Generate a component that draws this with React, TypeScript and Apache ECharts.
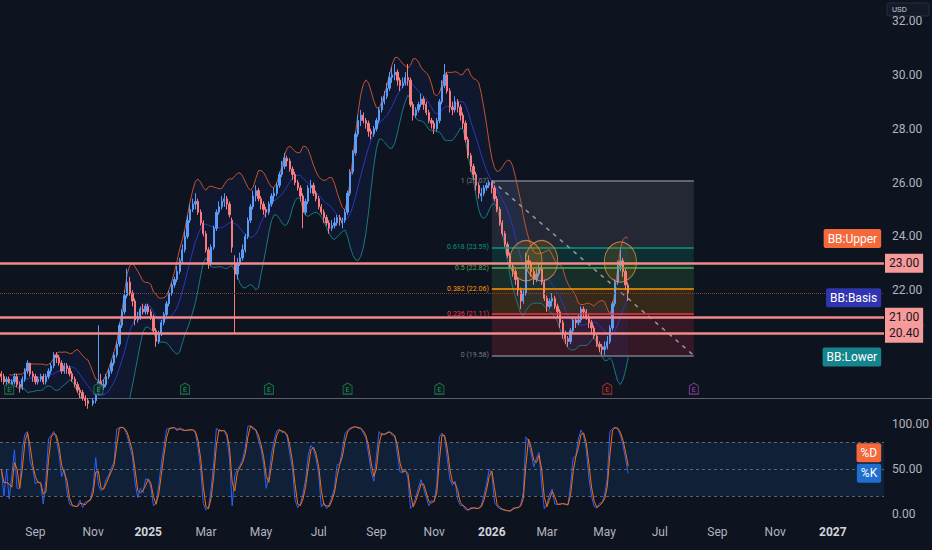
import React, { useEffect, useRef } from 'react';
import * as echarts from 'echarts';

// ---------- axis / categories ----------
const START_DATE = '2024-07-29';
const CATEGORY_COUNT = 337; // every second weekday, Jul 2024 .. Feb 2027
const MONTH_LABELS = ['Jan', 'Feb', 'Mar', 'Apr', 'May', 'Jun', 'Jul', 'Aug', 'Sep', 'Oct', 'Nov', 'Dec'];
const PRICE_LABEL_MIN = 22;
const PRICE_LABEL_MAX = 32;

// ---------- price candles: [open, close, low, high], one per category ----------
const CANDLES: number[][] = [
  [18.9,18.8,18.6,19.0],[18.8,18.6,18.5,18.9],[18.6,18.7,18.4,18.8],[18.7,18.5,18.4,18.8],[18.5,18.6,18.3,18.7],
  [18.6,18.8,18.5,18.9],[18.8,18.5,18.4,18.9],[18.5,18.4,18.2,18.6],[18.4,18.7,18.3,18.8],[18.7,19.0,18.6,19.1],
  [19.0,19.3,18.9,19.4],[19.3,18.9,18.8,19.3],[18.9,18.8,18.6,19.0],[18.8,18.6,18.5,18.9],[18.6,18.7,18.5,18.8],
  [18.7,18.8,18.6,18.9],[18.8,18.6,18.5,18.9],[18.6,18.8,18.5,18.9],[18.8,19.0,18.7,19.1],[19.0,19.2,18.9,19.3],
  [19.2,19.6,19.1,19.7],[19.6,19.5,19.3,19.7],[19.5,19.3,19.2,19.6],[19.3,19.0,18.9,19.4],[19.0,19.2,18.9,19.3],
  [19.2,19.1,18.9,19.3],[19.1,18.9,18.8,19.2],[18.9,18.7,18.6,19.0],[18.7,18.5,18.4,18.8],[18.5,18.3,18.2,18.6],
  [18.3,18.2,18.0,18.4],[18.2,18.0,17.9,18.3],[18.0,17.9,17.7,18.1],[17.9,17.8,17.6,18.0],[17.7,17.8,17.6,17.9],
  [17.8,17.9,17.7,18.0],[17.9,18.1,17.8,18.2],[18.2,18.6,18.1,20.7],[18.6,18.4,18.3,18.9],[18.4,18.5,18.3,18.7],
  [18.5,18.8,18.4,18.9],[18.8,19.0,18.7,19.1],[19.0,19.3,18.9,19.4],[19.3,19.6,19.2,19.7],[19.6,20.0,19.5,20.1],
  [20.0,20.7,19.9,20.8],[20.7,21.2,20.6,21.3],[21.2,21.8,21.1,22.0],[21.8,22.3,21.7,22.8],[22.3,21.9,21.8,22.5],
  [21.9,21.6,21.4,22.0],[21.6,20.9,20.7,21.7],[20.9,21.0,20.8,21.2],[21.0,21.3,20.9,21.4],[21.3,21.2,21.1,21.5],
  [21.2,21.4,21.1,21.5],[21.4,21.2,21.1,21.5],[21.2,21.0,20.9,21.3],[21.0,20.5,20.4,21.1],[20.5,20.1,19.9,20.6],
  [20.1,20.4,20.0,20.5],[20.4,20.8,20.3,20.9],[20.8,21.1,20.7,21.2],[21.1,21.5,21.0,21.6],[21.5,21.9,21.4,22.0],
  [21.9,22.2,21.8,22.3],[22.2,22.4,22.1,22.5],[22.4,22.7,22.3,22.9],[22.7,23.1,22.6,23.2],[23.1,23.5,23.0,23.7],
  [23.5,24.0,23.4,24.2],[24.0,24.6,23.9,24.8],[24.6,25.0,24.5,25.2],[25.0,25.2,24.9,25.4],[25.2,25.3,25.0,25.6],
  [25.3,24.9,24.8,25.4],[24.9,24.5,24.4,25.0],[24.5,24.1,24.0,24.6],[24.1,23.5,23.4,24.2],[23.5,23.0,22.8,23.6],
  [23.0,23.6,22.9,23.7],[23.6,24.3,23.5,24.4],[24.3,24.9,24.2,25.0],[24.9,25.1,24.8,25.3],[25.1,25.3,25.0,25.5],
  [25.3,25.4,25.1,25.6],[25.4,25.2,25.0,25.5],[25.2,24.8,24.7,25.3],[24.6,23.6,23.4,24.7],[23.0,22.6,20.4,23.3],
  [22.6,23.0,22.4,23.2],[23.0,23.2,22.9,23.4],[23.2,23.5,23.1,23.7],[23.5,24.0,23.4,24.1],[24.0,24.6,23.9,24.7],
  [24.6,25.1,24.5,25.2],[25.1,25.5,25.0,25.7],[25.5,25.7,25.3,25.9],[25.7,25.4,25.3,25.8],[25.4,25.2,25.0,25.5],
  [25.2,25.0,24.8,25.3],[25.0,24.9,24.7,25.1],[24.9,25.2,24.8,25.3],[25.2,25.5,25.1,25.6],[25.5,25.6,25.3,25.8],
  [25.6,25.9,25.5,26.0],[25.9,26.3,25.8,26.4],[26.3,26.6,26.2,26.8],[26.6,26.9,26.5,27.1],[26.9,26.8,26.6,27.0],
  [26.8,26.5,26.4,26.9],[26.5,26.3,26.1,26.6],[26.3,26.0,25.9,26.4],[26.0,25.8,25.7,26.1],[25.8,25.5,25.3,25.9],
  [25.5,24.9,24.3,25.6],[24.9,25.3,24.8,25.4],[25.3,25.8,25.2,25.9],[25.8,25.9,25.6,26.1],[25.9,25.6,25.5,26.0],
  [25.6,25.4,25.3,25.7],[25.4,25.1,25.0,25.5],[25.1,24.9,24.8,25.2],[24.9,24.7,24.5,25.0],[24.7,24.5,24.4,24.8],
  [24.5,24.3,24.1,24.6],[24.3,24.4,24.2,24.6],[24.4,24.5,24.3,24.7],[24.5,24.7,24.4,24.8],[24.7,24.6,24.4,24.8],
  [24.5,24.6,24.3,24.7],[24.6,24.9,24.5,25.0],[24.9,25.6,24.8,25.7],[25.6,26.4,25.5,26.5],[26.4,27.1,26.3,27.2],
  [27.1,27.8,27.0,27.9],[27.8,28.3,27.7,28.5],[28.3,28.5,28.1,28.7],[28.5,28.3,28.2,28.6],[28.3,28.2,28.0,28.4],
  [28.2,27.9,27.7,28.3],[27.9,27.8,27.6,28.0],[27.8,28.0,27.7,28.1],[28.0,28.3,27.9,28.4],[28.3,28.7,28.2,28.8],
  [28.7,29.0,28.6,29.2],[29.0,29.2,28.9,29.4],[29.2,29.5,29.1,29.7],[29.5,29.9,29.4,30.1],[29.9,30.0,29.7,30.3],
  [30.0,30.1,29.8,30.4],[30.1,29.8,29.6,30.2],[29.8,29.6,29.4,29.9],[29.6,29.7,29.5,29.9],[29.7,29.9,29.6,30.1],
  [29.9,29.8,29.6,30.4],[29.8,28.9,28.8,29.9],[28.9,28.5,28.3,29.0],[28.5,28.7,28.4,28.8],[28.7,28.9,28.6,29.0],
  [28.9,29.1,28.8,29.3],[29.1,28.9,28.7,29.2],[28.9,28.6,28.5,29.0],[28.6,28.3,28.2,28.7],[28.3,28.2,28.0,28.4],
  [28.2,28.0,27.8,28.3],[28.0,28.3,27.9,28.4],[28.3,29.0,28.2,29.1],[29.0,29.6,28.9,29.8],[29.6,30.0,29.5,30.4],
  [30.0,29.4,29.3,30.1],[29.4,28.8,28.6,29.5],[28.8,28.7,28.5,29.0],[28.7,29.0,28.6,29.2],[29.0,28.8,28.6,29.1],
  [28.8,28.5,28.3,28.9],[28.5,28.2,28.0,28.6],[28.2,27.6,27.5,28.3],[27.6,27.0,26.9,27.7],[27.0,26.6,26.4,27.1],
  [26.6,26.3,26.1,26.7],[26.3,25.9,25.7,26.4],[25.9,25.6,25.4,26.0],[25.5,25.6,25.3,25.8],[25.6,25.8,25.5,25.9],
  [25.8,25.9,25.7,26.0],[25.9,26.0,25.8,26.07],[26.0,25.8,25.6,26.05],[25.8,25.4,25.3,25.9],[25.4,25.0,24.9,25.5],
  [25.0,24.5,24.4,25.1],[24.5,24.1,24.0,24.6],[24.1,23.7,23.6,24.2],[23.7,23.3,23.2,23.8],[23.3,22.9,22.8,23.4],
  [22.9,22.7,22.5,23.0],[22.7,22.4,22.2,22.8],[22.4,22.0,21.8,22.5],[22.0,21.6,21.3,22.1],[21.6,21.9,21.5,22.0],
  [21.9,23.1,21.8,23.4],[23.1,23.0,22.8,23.3],[23.0,22.7,22.5,23.1],[22.7,22.4,22.2,22.8],[22.4,22.6,22.3,22.8],
  [22.6,22.8,22.5,23.0],[22.8,22.3,22.2,22.9],[22.3,21.7,21.6,22.4],[21.7,21.4,21.2,21.8],[21.4,21.6,21.3,21.7],
  [21.6,21.7,21.4,21.9],[21.7,21.4,21.3,21.8],[21.4,21.2,21.0,21.5],[21.2,20.8,20.6,21.3],[20.8,20.4,20.2,20.9],
  [20.4,20.2,20.0,20.5],[20.2,20.1,19.9,20.3],[20.1,20.5,20.0,20.6],[20.5,20.9,20.4,21.0],[20.9,20.8,20.6,21.0],
  [20.8,20.9,20.7,21.1],[20.9,21.3,20.8,21.4],[21.3,21.2,21.0,21.4],[21.2,21.0,20.9,21.3],[21.0,20.8,20.6,21.1],
  [20.8,20.6,20.4,20.9],[20.6,20.3,20.2,20.7],[20.3,20.0,19.9,20.4],[20.0,19.9,19.7,20.1],[19.9,19.8,19.58,20.0],
  [19.8,19.9,19.6,20.1],[19.9,20.1,19.8,20.3],[20.1,20.6,20.0,20.7],[20.6,21.5,20.5,21.6],[21.5,22.3,21.4,22.4],
  [22.3,22.9,22.2,23.1],[22.9,23.1,22.7,23.6],[23.1,22.7,22.5,23.2],[22.7,22.2,22.0,22.8],[22.2,21.9,21.6,22.3],
];

// ---------- drawings ----------
const H_LINES = [23.0, 21.0, 20.4];
const FIB_START = '2026-01-02';
const FIB_END = '2026-08-06';
const FIB_RATIOS = ['1', '0.618', '0.5', '0.382', '0.236', '0'];
const FIB_PRICES = [26.07, 23.59, 22.82, 22.06, 21.11, 19.58];
const FIB_COLORS = ['#787b86', '#089981', '#4caf50', '#ff9800', '#f23645', '#787b86'];
const FIB_FILLS = ['rgba(120,123,134,0.2)', 'rgba(8,153,129,0.2)', 'rgba(76,175,80,0.17)', 'rgba(255,152,0,0.17)', 'rgba(242,54,69,0.17)'];
const CIRCLE_DATES = ['2026-02-09', '2026-02-25', '2026-05-20'];
const CIRCLE_PRICES = [23.1, 23.1, 23.05];
const EVENT_DATES = ['2024-08-06', '2024-11-07', '2025-02-10', '2025-05-09', '2025-08-01', '2025-11-07', '2026-05-06', '2026-08-06'];
const EVENT_KINDS = ['past', 'past', 'past', 'past', 'past', 'past', 'recent', 'future'];
const EVENT_PRICE = 18.35;

// ---------- indicator settings ----------
const BB_PERIOD = 10;
const BB_MULT = 2;
const K_PERIOD = 7;
const D_PERIOD = 2;

const UP = '#5b9cf6';
const DOWN = '#f77c80';
const BG = '#0e1320';
const AXIS_TEXT = '#b2b5be';

function buildCategories(): string[] {
  const out: string[] = [];
  const d = new Date(START_DATE + 'T00:00:00Z');
  let wd = 0;
  while (out.length < CATEGORY_COUNT) {
    const dow = d.getUTCDay();
    if (dow !== 0 && dow !== 6) {
      if (wd % 2 === 0) out.push(d.toISOString().slice(0, 10));
      wd++;
    }
    d.setUTCDate(d.getUTCDate() + 1);
  }
  return out;
}

export default function App() {
  const ref = useRef<HTMLDivElement>(null);
  useEffect(() => {
    if (!ref.current) return;
    const chart = echarts.init(ref.current, undefined, { renderer: 'svg' });
    const cats = buildCategories();
    const catOf = (d: string) => cats.find((c) => c >= d) || cats[cats.length - 1];
    const lastCat = cats[cats.length - 1];

    const closes = CANDLES.map((c) => c[1]);
    const basis: (number | null)[] = [];
    const upper: (number | null)[] = [];
    const lower: (number | null)[] = [];
    for (let i = 0; i < closes.length; i++) {
      if (i < 3) { basis.push(null); upper.push(null); lower.push(null); continue; }
      const n = Math.min(i + 1, BB_PERIOD);
      const win = closes.slice(i + 1 - n, i + 1);
      const m = win.reduce((a, b) => a + b, 0) / n;
      const sd = Math.sqrt(win.reduce((a, b) => a + (b - m) * (b - m), 0) / n);
      basis.push(m); upper.push(m + BB_MULT * sd); lower.push(m - BB_MULT * sd);
    }
    const bandWidth = upper.map((u, i) => (u == null || lower[i] == null ? null : u - (lower[i] as number)));

    const kLine: number[] = [];
    const dLine: number[] = [];
    for (let i = 0; i < CANDLES.length; i++) {
      const n = Math.min(i + 1, K_PERIOD);
      const win = CANDLES.slice(i + 1 - n, i + 1);
      const hh = Math.max(...win.map((c) => c[3]));
      const ll = Math.min(...win.map((c) => c[2]));
      kLine.push(hh === ll ? 50 : (100 * (CANDLES[i][1] - ll)) / (hh - ll));
      const dn = Math.min(i + 1, D_PERIOD);
      const kw = kLine.slice(i + 1 - dn, i + 1);
      dLine.push(kw.reduce((a, b) => a + b, 0) / dn);
    }
    const lastK = kLine[kLine.length - 1];
    const lastD = dLine[dLine.length - 1];
    // keep the two end labels from overlapping: the lower one stays at its value
    let kPos = lastK, dPos = lastD;
    if (Math.abs(lastD - lastK) < 23) {
      if (lastD >= lastK) dPos = lastK + 23; else kPos = lastD + 23;
    }
    const lastIdx = closes.length - 1;

    const labelBox = (text: string, bg: string) => ({
      show: true, position: 'left', distance: 1, formatter: text, color: '#ffffff',
      backgroundColor: bg, padding: [4, 4, 3, 4], fontSize: 12, borderRadius: 2,
    });
    const lastMarker = (value: number, text: string, bg: string) => ({
      symbol: 'rect', symbolSize: 1, silent: true, itemStyle: { color: 'rgba(0,0,0,0)' },
      label: labelBox(text, bg),
      data: [{ coord: [lastCat, value] }],
    });

    const fibLines: any[] = FIB_PRICES.map((p, j) => [
      {
        coord: [FIB_START, p], name: `${FIB_RATIOS[j]} (${p.toFixed(2)})`,
        lineStyle: { color: FIB_COLORS[j], width: 1.5, type: 'solid' },
        label: { show: true, position: 'start', formatter: '{b}', color: FIB_COLORS[j], fontSize: 7, distance: 3 },
      },
      { coord: [FIB_END, p] },
    ]);
    fibLines.push([
      { coord: [FIB_START, FIB_PRICES[0]], lineStyle: { color: '#9598a1', width: 1.5, type: [4, 5] }, label: { show: false } },
      { coord: [FIB_END, FIB_PRICES[FIB_PRICES.length - 1]] },
    ]);
    const fibAreas = FIB_FILLS.map((c, j) => [
      { coord: [FIB_START, FIB_PRICES[j]], itemStyle: { color: c } },
      { coord: [FIB_END, FIB_PRICES[j + 1]] },
    ]);

    const eventStyle: any = {
      past: { border: '#1f8a5f', text: '#2bb37a', fill: '#0e1f1c' },
      recent: { border: '#b83c3c', text: '#e05555', fill: '#231418' },
      future: { border: '#8e4ab0', text: '#b06ad0', fill: '#1a1426' },
    };

    const option: any = {
      animation: false,
      backgroundColor: BG,
      textStyle: { fontFamily: 'Roboto, "Liberation Sans", sans-serif' },
      grid: [
        { left: 0, right: 48, top: 1, height: 397, containLabel: false, outerBoundsMode: 'none' },
        { left: 0, right: 48, top: 424, height: 90, containLabel: false, outerBoundsMode: 'none' },
      ],
      xAxis: [
        {
          type: 'category', gridIndex: 0, data: cats, boundaryGap: true,
          axisLine: { show: false }, axisTick: { show: false }, axisLabel: { show: false }, splitLine: { show: false },
        },
        {
          type: 'category', gridIndex: 1, data: cats, boundaryGap: true,
          axisLine: { show: false }, axisTick: { show: false }, splitLine: { show: false },
          axisLabel: {
            show: true, color: AXIS_TEXT, fontSize: 12, margin: 12,
            interval: (index: number, value: string) => {
              if (index === 0) return false;
              const m = Number(value.slice(5, 7)) - 1;
              const pm = Number(cats[index - 1].slice(5, 7)) - 1;
              return m !== pm && m % 2 === 0;
            },
            formatter: (value: string) => {
              const m = Number(value.slice(5, 7)) - 1;
              return m === 0 ? `{y|${value.slice(0, 4)}}` : MONTH_LABELS[m];
            },
            rich: { y: { fontWeight: 'bold', color: '#d1d4dc', fontSize: 12 } },
          },
        },
      ],
      yAxis: [
        {
          type: 'value', gridIndex: 0, position: 'right', min: 18, max: 32.74, interval: 2,
          axisLine: { show: false }, axisTick: { show: false }, splitLine: { show: false },
          axisLabel: {
            color: AXIS_TEXT, fontSize: 12, margin: 8,
            formatter: (v: number) => (v >= PRICE_LABEL_MIN && v <= PRICE_LABEL_MAX ? v.toFixed(2) : ''),
          },
        },
        {
          type: 'value', gridIndex: 1, position: 'right', min: 0, max: 100, interval: 50,
          axisLine: { show: false }, axisTick: { show: false }, splitLine: { show: false },
          axisLabel: { color: AXIS_TEXT, fontSize: 12, margin: 8, formatter: (v: number) => v.toFixed(2) },
        },
      ],
      series: [
        // Bollinger band fill
        { type: 'line', xAxisIndex: 0, yAxisIndex: 0, data: lower, stack: 'bb', symbol: 'none', silent: true, lineStyle: { opacity: 0 }, z: 1 },
        {
          type: 'line', xAxisIndex: 0, yAxisIndex: 0, data: bandWidth, stack: 'bb', symbol: 'none', silent: true,
          lineStyle: { opacity: 0 }, areaStyle: { color: 'rgba(41,98,255,0.07)', opacity: 1 }, z: 1,
        },
        {
          type: 'line', xAxisIndex: 0, yAxisIndex: 0, data: upper, symbol: 'none', silent: true,
          lineStyle: { color: '#c4522f', width: 1 }, z: 2,
          markPoint: lastMarker(upper[lastIdx] as number, 'BB:Upper', '#f4683a'),
        },
        {
          type: 'line', xAxisIndex: 0, yAxisIndex: 0, data: basis, symbol: 'none', silent: true,
          lineStyle: { color: '#2a36c0', width: 1 }, z: 2,
          markPoint: lastMarker(basis[lastIdx] as number, 'BB:Basis', '#2f34b0'),
        },
        {
          type: 'line', xAxisIndex: 0, yAxisIndex: 0, data: lower, symbol: 'none', silent: true,
          lineStyle: { color: '#187a7e', width: 1 }, z: 2,
          markPoint: lastMarker(lower[lastIdx] as number, 'BB:Lower', '#14858c'),
        },
        // candles
        {
          type: 'candlestick', xAxisIndex: 0, yAxisIndex: 0, data: CANDLES, barWidth: 1.8, z: 4, silent: true,
          itemStyle: { color: UP, color0: DOWN, borderColor: UP, borderColor0: DOWN, borderColorDoji: UP, borderWidth: 1 },
        },
        // fibonacci retracement
        {
          type: 'line', xAxisIndex: 0, yAxisIndex: 0, data: [], z: 5, silent: true,
          markArea: { silent: true, data: fibAreas },
          markLine: { silent: true, symbol: ['none', 'none'], data: fibLines },
        },
        // horizontal lines + last price line
        {
          type: 'line', xAxisIndex: 0, yAxisIndex: 0, data: [], z: 6, silent: true,
          markLine: {
            silent: true, symbol: ['none', 'none'],
            lineStyle: { color: '#f08a8a', width: 2.5, type: 'solid' },
            label: {
              show: true, position: 'end', distance: 1,
              formatter: (p: any) => Number(p.value).toFixed(2),
              color: '#131722', backgroundColor: '#f79a9a', padding: [4, 4, 3, 4], fontSize: 12,
            },
            data: [
              ...H_LINES.map((v) => ({ yAxis: v })),
              { yAxis: closes[lastIdx], lineStyle: { color: '#7a4a2a', width: 1, type: 'dotted' }, label: { show: false } },
            ],
          },
        },
        // circles
        {
          type: 'scatter', xAxisIndex: 0, yAxisIndex: 0, z: 7, silent: true,
          symbol: 'circle', symbolSize: [32, 40],
          itemStyle: { color: 'rgba(255,152,0,0.17)', borderColor: '#e8904a', borderWidth: 1 },
          data: CIRCLE_DATES.map((d, i) => [catOf(d), CIRCLE_PRICES[i]]),
        },
        // earnings markers
        {
          type: 'scatter', xAxisIndex: 0, yAxisIndex: 0, z: 7, silent: true,
          symbol: 'path://M5,0 L10,3 L10,12 L0,12 L0,3 Z', symbolSize: [9, 11],
          data: EVENT_DATES.map((d, i) => {
            const s = eventStyle[EVENT_KINDS[i]];
            return {
              value: [catOf(d), EVENT_PRICE],
              itemStyle: { color: s.fill, borderColor: s.border, borderWidth: 1 },
              label: { show: true, formatter: 'E', position: 'inside', offset: [0, 1], fontSize: 7, color: s.text },
            };
          }),
        },
        // stochastic
        {
          type: 'line', xAxisIndex: 1, yAxisIndex: 1, data: kLine, symbol: 'none', silent: true,
          lineStyle: { color: '#2962ff', width: 1 }, z: 3,
          markArea: { silent: true, itemStyle: { color: 'rgba(33,150,243,0.11)' }, data: [[{ yAxis: 20 }, { yAxis: 80 }]] },
          markLine: {
            silent: true, symbol: ['none', 'none'], label: { show: false },
            lineStyle: { color: 'rgba(120,123,134,0.75)', width: 1, type: [3, 3] },
            data: [{ yAxis: 80 }, { yAxis: 50 }, { yAxis: 20 }],
          },
          markPoint: lastMarker(kPos, '%K', '#1e6fd0'),
        },
        {
          type: 'line', xAxisIndex: 1, yAxisIndex: 1, data: dLine, symbol: 'none', silent: true,
          lineStyle: { color: '#ff6d00', width: 1 }, z: 4,
          markPoint: lastMarker(dPos, '%D', '#f4683a'),
        },
      ],
      graphic: [
        { type: 'line', silent: true, shape: { x1: 0, y1: 398.5, x2: 932, y2: 398.5 }, style: { stroke: '#5d606b', lineWidth: 1 } },
        { type: 'rect', silent: true, shape: { x: 887, y: 3, width: 42, height: 13, r: 2 }, style: { fill: '#141b28', stroke: '#2a2f3c' } },
        { type: 'text', silent: true, x: 892, y: 9.5, style: { text: 'USD', fontSize: 7, fill: '#d1d4dc', verticalAlign: 'middle' } },
      ],
    };
    chart.setOption(option);
    return () => chart.dispose();
  }, []);
  return <div ref={ref} style={{ position: 'fixed', left: 0, top: 0, width: 932, height: 550, background: BG }} />;
}
